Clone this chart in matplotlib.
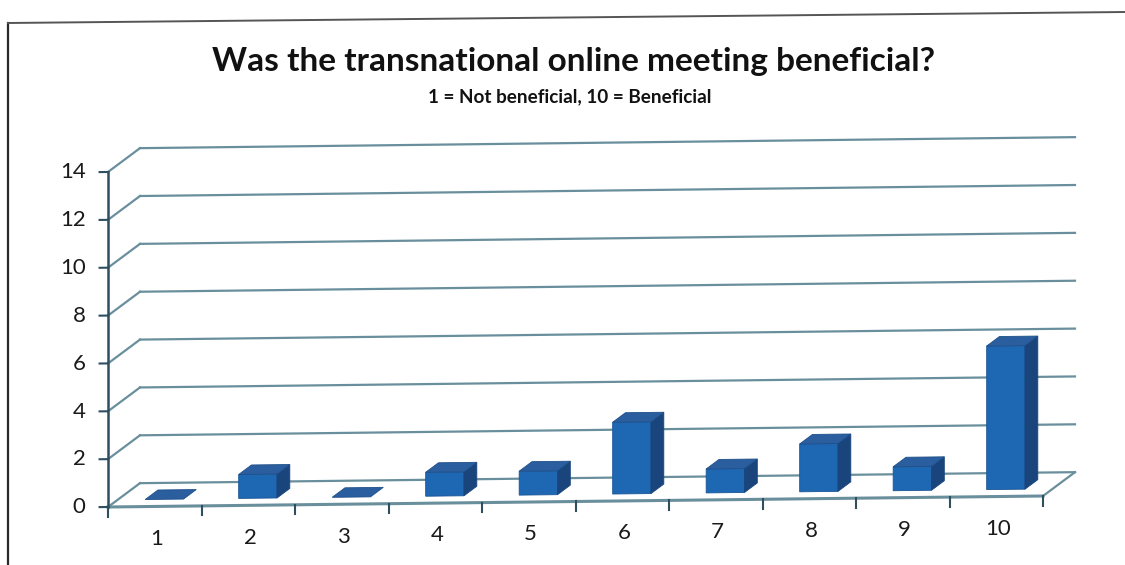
import numpy as np
import matplotlib
matplotlib.use("Agg")
import matplotlib.pyplot as plt
from matplotlib.patches import Polygon
from matplotlib.transforms import Affine2D
from matplotlib.lines import Line2D

# ---- data ----
categories = ["1", "2", "3", "4", "5", "6", "7", "8", "9", "10"]
values = [0, 1, 0, 1, 1, 3, 1, 2, 1, 6]
yticks = [0, 2, 4, 6, 8, 10, 12, 14]
title = "Was the transnational online meeting beneficial?"
subtitle = "1 = Not beneficial, 10 = Beneficial"

plt.rcParams['font.family'] = ['Lato', 'DejaVu Sans']

W, H = 1125, 565
fig = plt.figure(figsize=(W / 100, H / 100), dpi=100)
ax = fig.add_axes([0, 0, 1, 1])
ax.set_axis_off()
# pixel mapping: x=0 -> 108px, 1 unit = 93.5px ; value 0 -> 507px from top, 1 unit = 23.93px
px_x, px_y = 93.5, 23.93
ax.set_xlim(-108 / px_x, (W - 108) / px_x)
ax.set_ylim(-(H - 507) / px_y, 507 / px_y)

slope = 0.046
tr = Affine2D(np.array([[1, 0, 0], [slope, 1, 0], [0, 0, 1]])) + ax.transData

n = len(categories)
dx, dy = 0.342, 0.98   # depth of the plot box
grid_c = '#6a8f9c'
axis_c = '#2f4f5f'

# back wall gridlines + left wall diagonals
for t in yticks:
    ax.plot([dx, n + dx], [t + dy, t + dy], color=grid_c, lw=1.6, transform=tr, zorder=1)
    ax.plot([0, dx], [t, t + dy], color=grid_c, lw=1.6, transform=tr, zorder=1)
# floor
ax.plot([n, n + dx], [0, dy], color=grid_c, lw=1.6, transform=tr, zorder=1)
ax.plot([0, n], [0, 0], color=grid_c, lw=2.2, transform=tr, zorder=4)
# y axis
ax.plot([0, 0], [0, yticks[-1]], color=axis_c, lw=1.8, transform=tr, zorder=5)
for t in yticks:
    ax.plot([-0.09, 0], [t, t], color=axis_c, lw=1.5, transform=tr, zorder=5)
    ax.text(-0.24, t, str(t), ha='right', va='center', fontsize=16, color='#1a1a1a', transform=tr)
# x ticks at category boundaries
for i in range(n + 1):
    ax.plot([i, i], [0, -0.4], color=axis_c, lw=1.5, transform=tr, zorder=5)
for i, c in enumerate(categories):
    ax.text(i + 0.52, -1.35, c, ha='center', va='center', fontsize=16, color='#1a1a1a', transform=tr)

# bars
w = 0.41
d0, d1 = 0.30, 0.70
front_c, top_c, side_c = '#1e67b3', '#2a5e9f', '#19457c'
for i, v in enumerate(values):
    xl = i + 0.5 - w / 2 + d0 * dx
    xr = xl + w
    b0 = d0 * dy
    ddx, ddy = (d1 - d0) * dx, (d1 - d0) * dy
    if v > 0:
        ax.bar(xl, v, width=w, bottom=b0, align='edge', color=front_c, edgecolor='#1a5596',
               lw=0.6, transform=tr, zorder=6)
        ax.add_patch(Polygon([(xr, b0), (xr + ddx, b0 + ddy), (xr + ddx, b0 + ddy + v), (xr, b0 + v)],
                             closed=True, facecolor=side_c, edgecolor=side_c, lw=0.6, transform=tr, zorder=6))
    ax.add_patch(Polygon([(xl, b0 + v), (xr, b0 + v), (xr + ddx, b0 + v + ddy), (xl + ddx, b0 + v + ddy)],
                         closed=True, facecolor=top_c, edgecolor='#1f4f88', lw=0.6, transform=tr, zorder=7))

# titles
fig.text(574 / W, 1 - 62 / H, title, ha='center', va='center', fontsize=24, fontweight='bold', color='#111111')
fig.text(570 / W, 1 - 97 / H, subtitle, ha='center', va='center', fontsize=13.6, fontweight='bold', color='#111111')

# chart frame
fig.add_artist(Line2D([8 / W, 8 / W], [0, 1 - 23 / H], color='#2a2a2a', lw=1.6, transform=fig.transFigure))
fig.add_artist(Line2D([8 / W, 1], [1 - 23 / H, 1 - 12 / H], color='#555555', lw=1.4, transform=fig.transFigure))

fig.savefig("out.png", dpi=100, facecolor='white')
